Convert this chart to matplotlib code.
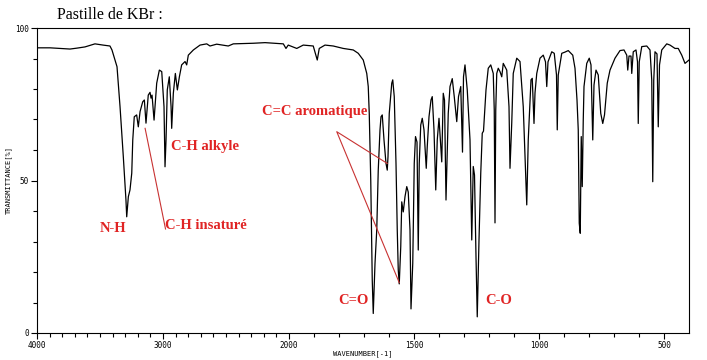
import numpy as np
import matplotlib
matplotlib.use("Agg")
from matplotlib import pyplot as plt

# IR spectrum (wavenumber in cm-1, transmittance in %)
wavenumber = [
    4000, 3897, 3817, 3738, 3683, 3619, 3540, 3476, 3421, 3405,
    3365, 3341, 3315, 3294, 3288, 3275, 3262, 3248, 3240, 3228,
    3209, 3196, 3182, 3161, 3148, 3135, 3117, 3103, 3095, 3087,
    3071, 3050, 3029, 3010, 2992, 2984, 2976, 2966, 2950, 2936,
    2931, 2918, 2902, 2886, 2870, 2852, 2825, 2812, 2799, 2759,
    2706, 2653, 2627, 2574, 2482, 2442, 2283, 2190, 2045, 2024,
    2006, 1969, 1943, 1903, 1887, 1879, 1856, 1823, 1783, 1743,
    1723, 1703, 1689, 1683, 1679, 1673, 1667, 1663, 1656, 1649,
    1643, 1636, 1632, 1627, 1620, 1612, 1607, 1604, 1599, 1589,
    1585, 1579, 1572, 1567, 1563, 1559, 1553, 1549, 1543, 1536,
    1529, 1523, 1516, 1512, 1505, 1499, 1494, 1488, 1483, 1479,
    1473, 1467, 1460, 1451, 1447, 1440, 1432, 1427, 1420, 1413,
    1407, 1400, 1389, 1383, 1378, 1372, 1363, 1356, 1347, 1339,
    1329, 1322, 1313, 1306, 1302, 1296, 1287, 1276, 1269, 1263,
    1258, 1252, 1247, 1240, 1233, 1227, 1222, 1212, 1203, 1193,
    1183, 1179, 1176, 1173, 1169, 1163, 1156, 1149, 1143, 1129,
    1120, 1116, 1109, 1103, 1089, 1076, 1063, 1049, 1043, 1032,
    1027, 1020, 1016, 1009, 996, 983, 974, 969, 964, 949,
    939, 930, 927, 923, 909, 896, 883, 865, 856, 848,
    843, 839, 835, 831, 827, 823, 820, 809, 799, 792,
    785, 780, 772, 763, 753, 745, 738, 727, 716, 696,
    676, 660, 649, 645, 640, 632, 629, 623, 612, 606,
    603, 599, 589, 569, 556, 549, 545, 541, 536, 528,
    523, 518, 509, 489, 476, 456, 443, 429, 416, 407,
    400,
]
transmittance = [
    93.5, 93.5, 93.3, 93.1, 93.4, 93.8, 94.8, 94.4, 94.1, 92.8,
    87.3, 74.2, 57.8, 43.6, 38.1, 44.7, 46.9, 52.4, 63.3, 70.9,
    71.5, 67.6, 72.6, 75.8, 76.4, 68.8, 78.0, 78.9, 77.0, 78.0,
    69.8, 81.9, 86.2, 85.7, 74.2, 54.5, 63.3, 79.7, 84.0, 74.2,
    67.1, 78.6, 85.1, 79.7, 84.0, 87.9, 89.0, 87.9, 91.1, 92.8,
    94.4, 94.8, 94.1, 94.7, 94.1, 94.8, 95.0, 95.2, 94.8, 93.3,
    94.4, 93.3, 94.4, 94.1, 89.5, 93.3, 94.4, 94.1, 93.3, 92.8,
    91.7, 89.5, 85.1, 80.8, 72.0, 50.2, 17.4, 6.4, 22.8, 33.8,
    53.4, 66.6, 70.9, 71.5, 63.3, 55.6, 53.4, 57.8, 72.0, 81.9,
    83.0, 77.5, 55.6, 33.8, 20.7, 16.1, 28.3, 43.0, 39.7, 44.7,
    48.0, 46.2, 33.8, 7.9, 22.8, 55.6, 64.4, 62.6, 27.2, 55.6,
    68.2, 70.4, 66.6, 54.0, 61.1, 70.9, 76.4, 77.5, 66.6, 46.9,
    63.3, 70.4, 56.1, 78.6, 76.4, 43.6, 72.0, 80.8, 83.4, 77.5,
    69.3, 77.5, 80.8, 59.3, 84.0, 87.9, 79.7, 63.3, 30.5, 54.6,
    51.8, 25.0, 5.3, 30.5, 52.4, 65.5, 66.2, 79.7, 86.8, 87.9,
    85.1, 73.1, 36.1, 73.1, 85.1, 86.8, 85.7, 84.0, 88.4, 86.2,
    74.2, 54.0, 68.9, 85.1, 90.1, 89.0, 74.2, 42.0, 63.3, 83.0,
    83.5, 68.7, 78.7, 85.1, 90.1, 91.1, 88.9, 80.8, 88.9, 92.2,
    91.7, 84.6, 66.6, 84.6, 91.7, 92.1, 92.6, 91.1, 86.8, 76.4,
    66.6, 36.0, 32.7, 64.4, 48.0, 69.8, 80.8, 88.4, 90.1, 87.9,
    63.3, 81.3, 86.2, 84.6, 72.0, 68.7, 71.5, 81.9, 86.2, 90.1,
    92.6, 92.8, 91.1, 86.2, 90.8, 90.8, 85.1, 92.2, 92.8, 88.9,
    68.7, 88.9, 93.9, 94.1, 92.8, 82.9, 49.6, 82.9, 92.2, 91.5,
    67.6, 87.9, 92.8, 94.8, 94.4, 93.3, 93.3, 91.1, 88.4, 89.0,
    89.5,
]

x_major = [4000, 3000, 2000, 1500, 1000, 500]
y_major = [0, 50, 100]

red = "#e02424"
line_red = "#c83232"


# the x axis is compressed above 2000 cm-1 like on the spectrometer chart
def fwd(w):
    w = np.asarray(w, dtype=float)
    return np.where(w >= 2000, 2000 + (w - 2000) * 0.504, w)


def inv(u):
    u = np.asarray(u, dtype=float)
    return np.where(u >= 2000, 2000 + (u - 2000) / 0.504, u)


fig = plt.figure(figsize=(7.07, 3.6), dpi=100)
ax = fig.add_axes([37 / 707, 27 / 360, 652 / 707, 305 / 360])

ax.plot(wavenumber, transmittance, color="black", linewidth=0.9)

ax.set_xscale("function", functions=(fwd, inv))
ax.set_xlim(4000, 400)
ax.set_ylim(0, 100)

ax.set_xticks(x_major)
ax.set_xticklabels([str(v) for v in x_major])
ax.set_xticks(list(range(3900, 2000, -100)) + list(range(1900, 400, -100)), minor=True)
ax.set_yticks(y_major)
ax.set_yticklabels([str(v) for v in y_major])
ax.set_yticks(range(10, 100, 10), minor=True)

ax.tick_params(axis="both", which="major", length=4, width=0.8, labelsize=5.5, pad=2)
ax.tick_params(axis="both", which="minor", length=3, width=0.8)
for lab in ax.get_xticklabels() + ax.get_yticklabels():
    lab.set_family("DejaVu Sans Mono")
for s in ax.spines.values():
    s.set_linewidth(0.8)

ax.set_xlabel("WAVENUMBER[-1]", fontsize=5, family="DejaVu Sans Mono", labelpad=0)
ax.set_ylabel("TRANSMITTANCE[%]", fontsize=5, family="DejaVu Sans Mono", labelpad=2)

fig.text(57 / 707, 1 - 15 / 360, "Pastille de KBr :", fontsize=11.5,
         family="Liberation Serif", va="center", ha="left")

# labels of the bands
font = dict(color=red, fontsize=10.5, family="Liberation Serif", weight="bold", va="center")
ax.text(3397, 34.4, "N-H", ha="center", **font)
ax.text(2984, 35.4, "C-H insaturé", ha="left", **font)
ax.text(2936, 61.3, "C-H alkyle", ha="left", **font)
ax.text(2214, 72.6, "C=C aromatique", ha="left", **font)
ax.text(1804, 10.5, "C=O", ha="left", **font)
ax.text(1216, 10.6, "C-O", ha="left", **font)

# pointer lines
ax.plot([3142, 2980], [67.1, 34.1], color=line_red, linewidth=0.8)
ax.plot([1607, 1809, 1559], [55.6, 66.0, 16.5], color=line_red, linewidth=0.8)

plt.savefig("out.png", dpi=100)
